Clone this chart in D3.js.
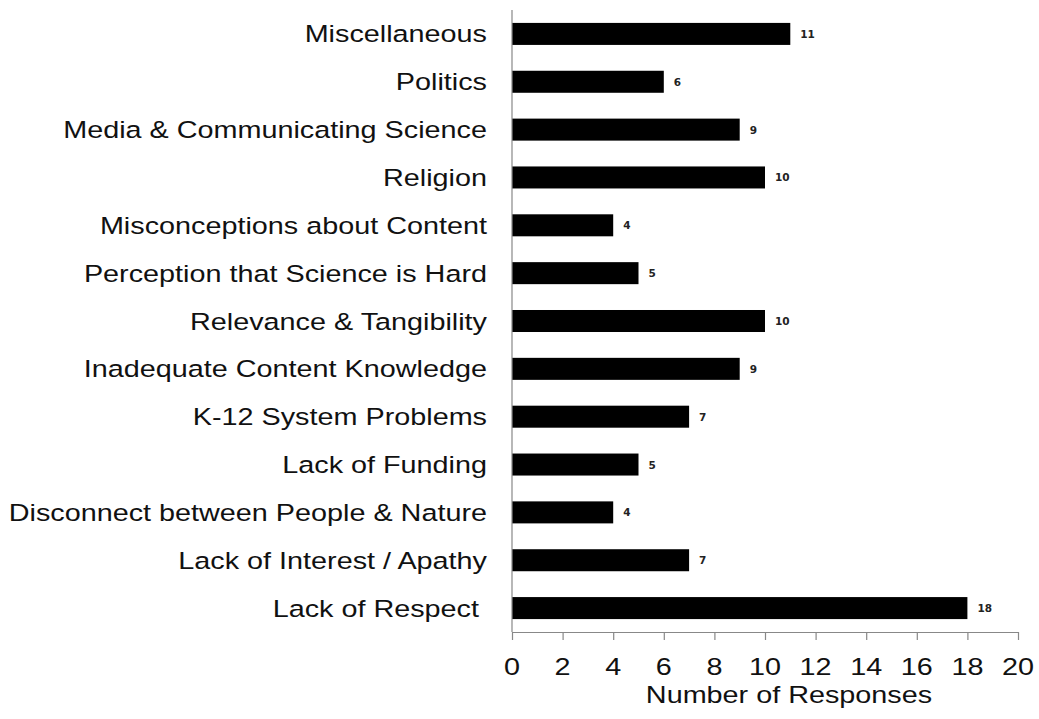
<!DOCTYPE html>
<html><head><meta charset="utf-8">
<script src="https://cdn.jsdelivr.net/npm/d3@7"></script>
<style>body{margin:0;background:#fff}</style>
</head><body>
<svg id="c" width="1039" height="719"></svg>
<script>
const categories = ["Miscellaneous","Politics","Media & Communicating Science","Religion","Misconceptions about Content","Perception that Science is Hard","Relevance & Tangibility","Inadequate Content Knowledge","K-12 System Problems","Lack of Funding","Disconnect between People & Nature","Lack of Interest / Apathy","Lack of Respect "];
const values = [11,6,9,10,4,5,10,9,7,5,4,7,18];
const xTicks = [0,2,4,6,8,10,12,14,16,18,20];

const svg = d3.select("#c");
const x = d3.scaleLinear().domain([0,20]).range([512,1018]);
const y = d3.scaleBand().domain(categories).range([10,632]).paddingInner(0.54).paddingOuter(0.27);
const sx = 1.175, fs = 24.5;
const font = "'Liberation Sans', Arial, sans-serif";

// bars
svg.selectAll("rect.bar").data(categories).join("rect")
  .attr("x", x(0)).attr("y", d=>y(d))
  .attr("width", (d,i)=>x(values[i])-x(0)).attr("height", y.bandwidth())
  .attr("fill","#000");

// value labels
svg.selectAll("text.val").data(categories).join("text")
  .attr("x",(d,i)=>x(values[i])+10).attr("y",d=>y(d)+y.bandwidth()/2+4)
  .attr("font-family","'DejaVu Sans', sans-serif").attr("font-weight","bold")
  .attr("font-size",10.5).attr("fill","#222")
  .text((d,i)=>values[i]);

// left axis line
svg.append("line").attr("x1",x(0)).attr("x2",x(0)).attr("y1",10).attr("y2",632)
  .attr("stroke","#888").attr("stroke-width",1.2);

// category labels
svg.selectAll("text.cat").data(categories).join("text")
  .attr("transform",d=>`translate(487,${y(d)+y.bandwidth()/2+8.5}) scale(${sx},1)`)
  .attr("text-anchor","end").attr("font-family",font).attr("font-size",fs)
  .style("white-space","pre").attr("fill","#111")
  .text(d=>d);

// bottom axis
const ax = svg.append("g").attr("transform","translate(0,632)")
  .call(d3.axisBottom(x).tickValues(xTicks).tickSize(8).tickSizeOuter(0).tickFormat(d3.format("d")));
ax.select(".domain").attr("stroke","#888").attr("stroke-width",1.2);
ax.selectAll(".tick line").attr("stroke","#888").attr("stroke-width",1.2);
ax.selectAll(".tick text").remove();
svg.selectAll("text.xt").data(xTicks).join("text")
  .attr("transform",d=>`translate(${x(d)},675) scale(${sx},1)`)
  .attr("text-anchor","middle").attr("font-family",font).attr("font-size",fs).attr("fill","#111")
  .text(d=>d);

// axis title
svg.append("text").attr("transform",`translate(${(x(0)+x(20))/2+24},703) scale(${sx},1)`)
  .attr("text-anchor","middle").attr("font-family",font).attr("font-size",fs).attr("fill","#111")
  .text("Number of Responses");
</script>
</body></html>
